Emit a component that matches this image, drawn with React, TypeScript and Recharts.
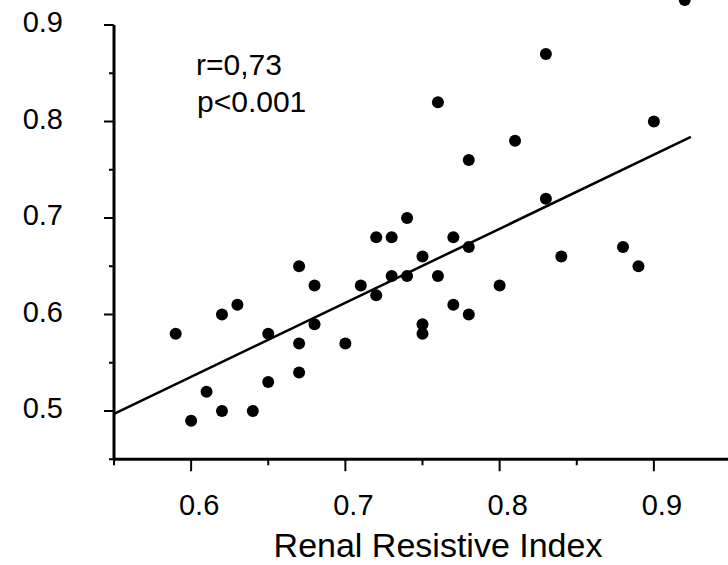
import { ScatterChart, Scatter, XAxis, YAxis, ReferenceLine } from 'recharts';

// renal resistive index (x) vs. index on the y axis, one entry per patient
const renalRI = [
  0.59, 0.60, 0.61, 0.62, 0.62, 0.63, 0.64, 0.65, 0.65, 0.67, 0.67, 0.67, 0.68, 0.68,
  0.70, 0.71, 0.72, 0.72, 0.73, 0.73, 0.74, 0.74, 0.75, 0.75, 0.75, 0.76, 0.76, 0.77,
  0.77, 0.78, 0.78, 0.78, 0.80, 0.81, 0.83, 0.83, 0.84, 0.88, 0.89, 0.90, 0.92,
];
const yIndex = [
  0.58, 0.49, 0.52, 0.60, 0.50, 0.61, 0.50, 0.58, 0.53, 0.65, 0.57, 0.54, 0.63, 0.59,
  0.57, 0.63, 0.68, 0.62, 0.68, 0.64, 0.70, 0.64, 0.66, 0.59, 0.58, 0.82, 0.64, 0.68,
  0.61, 0.76, 0.67, 0.60, 0.63, 0.78, 0.87, 0.72, 0.66, 0.67, 0.65, 0.80, 0.926,
];

// regression line end points
const fitX = [0.55, 0.924];
const fitY = [0.497, 0.784];

const xTicks = [0.55, 0.6, 0.65, 0.7, 0.75, 0.8, 0.85, 0.9, 0.95];
const yTicks = [0.45, 0.5, 0.55, 0.6, 0.65, 0.7, 0.75, 0.8, 0.85, 0.9];

const points = renalRI.map((x, i) => ({ x, y: yIndex[i] }));

const FONT = '"Liberation Sans", Arial, Helvetica, sans-serif';
const labelStyle = { fontSize: 29, fontFamily: FONT, fill: '#000' };

const isMajor = (v: number) => Math.abs(v * 10 - Math.round(v * 10)) < 1e-6;

const YTick = ({ x, y, payload }: any) => {
  const major = isMajor(payload.value);
  return (
    <g>
      <line x1={x - (major ? 10 : 5)} x2={x} y1={y} y2={y} stroke="#000" strokeWidth={2} />
      {major && (
        <text x={x - 51} y={y + 7} textAnchor="end" style={labelStyle}>
          {payload.value.toFixed(1)}
        </text>
      )}
    </g>
  );
};

const XTick = ({ x, y, payload }: any) => {
  const major = isMajor(payload.value);
  return (
    <g>
      <line x1={x} x2={x} y1={y} y2={y + (major ? 12 : 6)} stroke="#000" strokeWidth={2} />
      {major && (
        <text x={x + 8} y={y + 56} textAnchor="middle" style={labelStyle}>
          {payload.value.toFixed(1)}
        </text>
      )}
    </g>
  );
};

export default function App() {
  return (
    <div style={{ position: 'absolute', left: 0, top: 0, width: 728, height: 565, overflow: 'hidden', background: '#fff' }}>
      <div style={{ position: 'absolute', left: 0, top: -40 }}>
        <ScatterChart width={760} height={600} margin={{ top: 16.75, right: 29, bottom: 90.75, left: 104 }}>
          <XAxis
            type="number"
            dataKey="x"
            domain={[0.55, 0.95]}
            ticks={xTicks}
            interval={0}
            height={10}
            tickSize={0}
            tickMargin={0}
            tickLine={false}
            axisLine={{ stroke: '#000', strokeWidth: 3 }}
            tick={<XTick />}
          />
          <YAxis
            type="number"
            dataKey="y"
            domain={[0.45, 0.95]}
            ticks={yTicks}
            interval={0}
            width={10}
            tickSize={0}
            tickMargin={0}
            tickLine={false}
            axisLine={false}
            tick={<YTick />}
          />
          {/* y axis only runs up to 0.9 */}
          <ReferenceLine
            segment={[{ x: 0.55, y: 0.45 }, { x: 0.55, y: 0.9 }]}
            stroke="#000"
            strokeWidth={3}
          />
          <ReferenceLine
            segment={[{ x: fitX[0], y: fitY[0] }, { x: fitX[1], y: fitY[1] }]}
            stroke="#000"
            strokeWidth={2.5}
          />
          <Scatter
            data={points}
            isAnimationActive={false}
            shape={(props: any) => <circle cx={props.cx} cy={props.cy} r={6} fill="#000" />}
          />
        </ScatterChart>
      </div>
      <svg width={728} height={565} style={{ position: 'absolute', left: 0, top: 0, pointerEvents: 'none' }}>
        <text x={196} y={75} style={{ fontSize: 30, fontFamily: FONT, fill: '#000' }}>r=0,73</text>
        <text x={197} y={112} style={{ fontSize: 30, fontFamily: FONT, fill: '#000' }}>p&lt;0.001</text>
        <text x={438} y={557} textAnchor="middle" style={{ fontSize: 34, fontFamily: FONT, fill: '#000' }}>
          Renal Resistive Index
        </text>
      </svg>
    </div>
  );
}
